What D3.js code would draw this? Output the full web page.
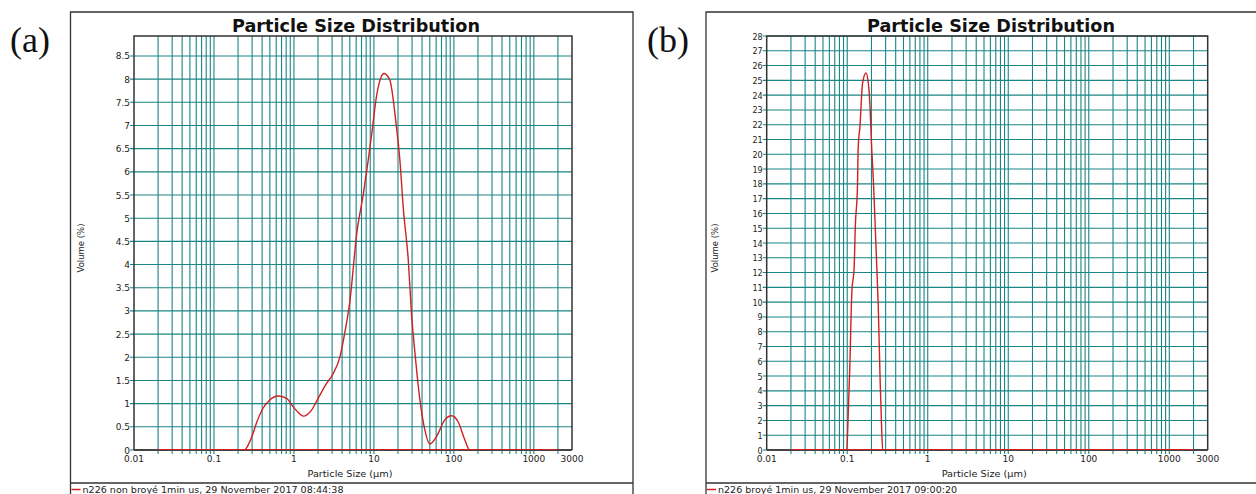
<!DOCTYPE html>
<html><head><meta charset="utf-8">
<script src="https://cdn.jsdelivr.net/npm/d3@7"></script>
<style>
html,body{margin:0;padding:0;background:#fff;overflow:hidden}
svg{display:block}
text{font-family:"DejaVu Sans",Verdana,sans-serif}
</style></head>
<body>
<svg id="c" width="1256" height="494"></svg>
<script>
// ---------- data ----------
const titleText = "Particle Size Distribution";
const xAxisLabel = "Particle Size (µm)";
const yAxisLabel = "Volume (%)";
const panelLabels = ["(a)", "(b)"];
const legendLabels = ["n226 non broyé 1min us, 29 November 2017 08:44:38",
                      "n226 broyé 1min us, 29 November 2017 09:00:20"];

const xTickValues = [0.01, 0.1, 1, 10, 100, 1000, 3000];
const xTickLabels = ["0.01", "0.1", "1", "10", "100", "1000", "3000"];

const yTickValuesA = [0,0.5,1,1.5,2,2.5,3,3.5,4,4.5,5,5.5,6,6.5,7,7.5,8,8.5];
const yTickLabelsA = ["0","0.5","1","1.5","2","2.5","3","3.5","4","4.5","5","5.5","6","6.5","7","7.5","8","8.5"];
const yTickValuesB = [0,1,2,3,4,5,6,7,8,9,10,11,12,13,14,15,16,17,18,19,20,21,22,23,24,25,26,27,28];
const yTickLabelsB = ["0","1","2","3","4","5","6","7","8","9","10","11","12","13","14","15","16","17","18","19","20","21","22","23","24","25","26","27","28"];

// panel (a): non-milled sample
const sizeA =   [0.02, 0.24, 0.27, 0.30, 0.34, 0.41, 0.50, 0.63, 0.81, 0.98, 1.15, 1.31, 1.66, 2.0, 2.57, 3.1, 3.76, 4.4, 5.0, 6.1, 7.4, 8.5, 9.6, 10.5, 11.8, 13.4, 15.8, 19.1, 21.1, 23.4, 26.9, 29.5, 33, 37.6, 43.4, 50, 60.6, 77, 93.5, 113, 137, 158, 2000];
const volumeA = [0, 0, 0.12, 0.3, 0.58, 0.9, 1.08, 1.165, 1.115, 0.93, 0.8, 0.73, 0.86, 1.11, 1.44, 1.65, 2.01, 2.6, 3.2, 4.67, 5.54, 6.26, 6.95, 7.5, 7.95, 8.12, 7.98, 6.98, 6.26, 5.18, 4.1, 2.95, 2.0, 1.08, 0.43, 0.13, 0.29, 0.65, 0.74, 0.61, 0.22, 0, 0];

// panel (b): milled sample
const sizeB =   [0.02, 0.0986, 0.103, 0.108, 0.114, 0.122, 0.126, 0.134, 0.137, 0.144, 0.155, 0.171, 0.183, 0.192, 0.201, 0.211, 0.221, 0.232, 0.243, 0.255, 0.268, 0.276, 2000];
const volumeB = [0, 0, 2.48, 5.86, 10.6, 12.4, 15.1, 17.8, 20.5, 21.9, 24.8, 25.5, 24.8, 23.2, 20.5, 18.3, 15.6, 12.6, 9.7, 5.19, 1.35, 0, 0];

// ---------- drawing ----------
const svg = d3.select("#c");
const gridCol = "#1a8585";

const gridX = [];
[0.01, 0.1, 1, 10, 100, 1000].forEach(d => { for (let k = 1; k <= 9; k++) { const v = d * k; if (v > 0.01 && v < 3000) gridX.push(v); } });

function panel(o) {
  const g = svg.append("g");
  // outer box
  g.append("path").attr("d", `M${o.boxL},494 V${12} H${o.boxR} V494`)
    .attr("fill", "none").attr("stroke", "#333").attr("stroke-width", 1.3);
  g.append("line").attr("x1", o.boxL).attr("x2", o.boxR).attr("y1", 483).attr("y2", 483)
    .attr("stroke", "#333").attr("stroke-width", 1.3);

  // panel label
  svg.append("text").attr("x", o.labX).attr("y", 52)
    .style("font-family", "'Liberation Serif','DejaVu Serif',serif")
    .attr("font-size", 36).attr("fill", "#111").text(o.label);

  const x = d3.scaleLog().domain([0.01, 3000]).range([o.left, o.right]);
  const y = d3.scaleLinear().domain([0, o.ymax]).range([450, 36]);

  // title
  g.append("text").attr("x", o.titleX).attr("y", 32).attr("text-anchor", "middle")
    .attr("font-weight", "bold").attr("font-size", 18.5).attr("fill", "#111")
    .attr("textLength", 248).attr("lengthAdjust", "spacingAndGlyphs").text(titleText);

  // grid
  g.append("g").selectAll("line").data(gridX).join("line")
    .attr("x1", d => x(d)).attr("x2", d => x(d)).attr("y1", 36).attr("y2", 454)
    .attr("stroke", gridCol).attr("stroke-width", 1.1);
  g.append("g").selectAll("line").data(o.yTicks).join("line")
    .attr("x1", o.left - 4).attr("x2", o.right).attr("y1", d => y(d)).attr("y2", d => y(d))
    .attr("stroke", gridCol).attr("stroke-width", 1.1);

  // frame
  g.append("path").attr("d", `M${o.left},450 V36 H${o.right} V450`)
    .attr("fill", "none").attr("stroke", "#333").attr("stroke-width", 1.5);

  // y tick labels
  g.append("g").selectAll("text").data(o.yTicks).join("text")
    .attr("x", o.left - 4).attr("y", d => y(d) + 3.5).attr("text-anchor", "end")
    .attr("font-size", o.yFont).attr("fill", "#222").text((d, i) => o.yLabels[i]);

  // x tick labels
  g.append("g").selectAll("text").data(xTickValues).join("text")
    .attr("x", d => x(d)).attr("y", 462).attr("text-anchor", "middle")
    .attr("font-size", 9).attr("fill", "#222").text((d, i) => xTickLabels[i]);

  // axis labels
  g.append("text").attr("x", (o.left + o.right) / 2 - 3).attr("y", 477).attr("text-anchor", "middle")
    .attr("font-size", 8.5).attr("fill", "#222").attr("textLength", 85).attr("lengthAdjust", "spacingAndGlyphs").text(xAxisLabel);
  g.append("text").attr("transform", `translate(${o.yLabX},248) rotate(-90)`).attr("text-anchor", "middle")
    .attr("font-size", 8.5).attr("fill", "#222").text(yAxisLabel);

  // curve
  const pts = o.sizes.map((s, i) => [s, o.vols[i]]);
  const line = d3.line().x(d => x(d[0])).y(d => y(d[1])).curve(d3.curveMonotoneX);
  g.append("path").datum(pts).attr("d", line).attr("fill", "none")
    .attr("stroke", "#d02020").attr("stroke-width", 1.4);

  // bottom axis over curve
  g.append("line").attr("x1", o.left).attr("x2", o.right).attr("y1", 450).attr("y2", 450)
    .attr("stroke", "#444").attr("stroke-width", 2);
  g.append("line").attr("x1", x(0.02)).attr("x2", x(2000)).attr("y1", 449.5).attr("y2", 449.5)
    .attr("stroke", "#d02020").attr("stroke-width", 1.2);

  // legend
  g.append("line").attr("x1", o.boxL + 1).attr("x2", o.boxL + 10).attr("y1", 489.5).attr("y2", 489.5)
    .attr("stroke", "#d02020").attr("stroke-width", 1.5);
  g.append("text").attr("x", o.boxL + 12).attr("y", 492.5).attr("font-size", 9).attr("fill", "#222")
    .attr("textLength", o.legLen).attr("lengthAdjust", "spacingAndGlyphs").text(o.legend);
}

panel({ boxL: 70.5, boxR: 633, labX: 10, label: panelLabels[0], left: 134, right: 572, ymax: 8.93,
        titleX: 356, yTicks: yTickValuesA, yLabels: yTickLabelsA, yFont: 9, yLabX: 84,
        sizes: sizeA, vols: volumeA, legend: legendLabels[0], legLen: 261 });
panel({ boxL: 706, boxR: 1262, labX: 647, label: panelLabels[1], left: 766.7, right: 1207.7, ymax: 28,
        titleX: 991, yTicks: yTickValuesB, yLabels: yTickLabelsB, yFont: 8, yLabX: 718,
        sizes: sizeB, vols: volumeB, legend: legendLabels[1], legLen: 239 });
</script>
</body></html>
